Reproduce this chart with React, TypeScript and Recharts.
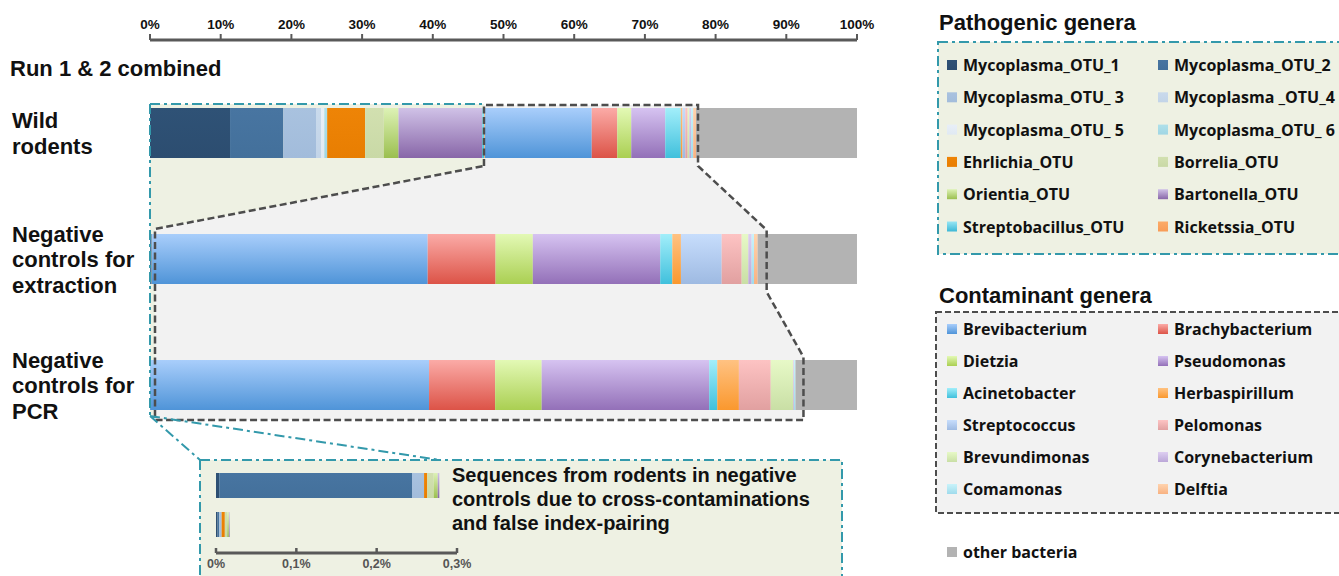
import React from "react";
import { Bar, BarChart, XAxis, YAxis } from "recharts";

// groups (rows of the main chart)
const groupNames = ["Wild rodents", "Negative controls for extraction", "Negative controls for PCR"];
const groupLines = [
  ["Wild", "rodents"],
  ["Negative", "controls for", "extraction"],
  ["Negative", "controls for", "PCR"],
];

const pathogenNames = [
  "Mycoplasma_OTU_1", "Mycoplasma_OTU_2", "Mycoplasma_OTU_ 3", "Mycoplasma _OTU_4",
  "Mycoplasma_OTU_ 5", "Mycoplasma_OTU_ 6", "Ehrlichia_OTU", "Borrelia_OTU",
  "Orientia_OTU", "Bartonella_OTU", "Streptobacillus_OTU", "Ricketssia_OTU",
];
const contaminantNames = [
  "Brevibacterium", "Brachybacterium", "Dietzia", "Pseudomonas", "Acinetobacter", "Herbaspirillum",
  "Streptococcus", "Pelomonas", "Brevundimonas", "Corynebacterium", "Comamonas", "Delftia",
];
const otherName = "other bacteria";

// % of reads, same order as the names above
const wildPathogens = [11.32, 7.54, 4.62, 0.71, 0.47, 0.4, 5.37, 2.64, 2.08, 11.83, 0.3, 0.1];
const extractionPathogens = [0.004, 0.24, 0.015, 0, 0, 0, 0.004, 0.008, 0.005, 0.002, 0, 0];
const pcrPathogens = [0.002, 0.002, 0.003, 0, 0, 0, 0.004, 0.003, 0.002, 0.001, 0, 0];

const wildContaminants = [15.1, 3.62, 1.97, 4.81, 2.2, 0.24, 0.4, 0.33, 0.24, 0.24, 0.3, 0.4];
const extractionContaminants = [39.0, 9.6, 5.27, 18.02, 1.71, 1.22, 5.76, 2.83, 0.94, 0.47, 0.33, 0.52];
const pcrContaminants = [39.45, 9.35, 6.58, 23.7, 1.14, 3.06, 0, 4.5, 3.2, 0.1, 0.2, 0];

const otherBacteria = [22.77, 14.05, 8.7];

const axisTicks = [0, 10, 20, 30, 40, 50, 60, 70, 80, 90, 100];
const insetTicks = [0, 0.1, 0.2, 0.3];
const insetTickLabels = ["0%", "0,1%", "0,2%", "0,3%"];
const insetNames = ["extraction", "PCR"];

// [top, bottom] of the vertical shading
const pathogenColors = [
  ["#2f5276", "#2c4d70"], ["#4875a1", "#43709b"], ["#a9c2df", "#a2bcdb"], ["#c9daec", "#c2d4e8"],
  ["#e8eff7", "#e0e9f3"], ["#aee0ea", "#a0d6e4"], ["#ee8406", "#e87e02"], ["#d2e0b0", "#c9d9a6"],
  ["#ddf2b6", "#9bbf4f"], ["#d0c2e7", "#8866a8"], ["#98e6f4", "#3cb8d6"], ["#fcab68", "#f89c56"],
];
const contaminantColors = [
  ["#a9cefb", "#4f94d8"], ["#fbaba7", "#dc5347"], ["#e3f9b5", "#aacf52"], ["#d6c3f1", "#9370b8"],
  ["#a2eefa", "#40c0dc"], ["#ffc282", "#fa982e"], ["#c7ddfc", "#9ebae2"], ["#fdc3c3", "#e1a0a0"],
  ["#e7f9c7", "#c9dfa5"], ["#ddcef1", "#bba7d8"], ["#c9f3fa", "#9fdbec"], ["#ffd3ae", "#f8b282"],
];
const otherColor = "#b3b3b3";

const FONT_ARIAL = "'Liberation Sans', Arial, sans-serif";
const FONT_LEGEND = "'Open Sans', 'Noto Sans', sans-serif";
const TEAL = "#3399ab";
const DARK = "#4d4d4d";

const sum = (a: number[]) => a.reduce((s, v) => s + v, 0);

const pathogenSets = [wildPathogens, extractionPathogens, pcrPathogens];
const contaminantSets = [wildContaminants, extractionContaminants, pcrContaminants];

const rows = groupNames.map((name, i) => {
  const row: Record<string, any> = { name };
  pathogenSets[i].forEach((v, j) => (row[`p${j}`] = v));
  contaminantSets[i].forEach((v, j) => (row[`c${j}`] = v));
  row.other = otherBacteria[i];
  return row;
});

const insetRows = insetNames.map((name, i) => {
  const row: Record<string, any> = { name };
  pathogenSets[i + 1].forEach((v, j) => (row[`p${j}`] = v));
  return row;
});

// geometry of the main chart (same numbers as the chart margins below)
const PLOT_LEFT = 150;
const PLOT_RIGHT = 857;
const CAT_TOP = 70;
const BAND = 126;
const BAR = 50;
const xPos = (v: number) => PLOT_LEFT + (v / 100) * (PLOT_RIGHT - PLOT_LEFT);
const yCenter = (i: number) => CAT_TOP + BAND * i + BAND / 2;

function GroupTick(props: any) {
  const { y, index } = props;
  const lines = groupLines[index] || [];
  return (
    <text fontFamily={FONT_ARIAL} fontWeight="bold" fontSize={22} fill="#111">
      {lines.map((t, k) => (
        <tspan key={k} x={12} y={y + (k - (lines.length - 1) / 2) * 25.5 + 8}>
          {t}
        </tspan>
      ))}
    </text>
  );
}

function InsetTick(props: any) {
  const { x, y, index } = props;
  return (
    <g>
      <line x1={x} x2={x} y1={y - 5} y2={y} stroke="#595959" strokeWidth={2.5} />
      <text x={x} y={y + 15} textAnchor="middle" fontFamily={FONT_ARIAL} fontWeight="bold" fontSize={12.5} fill="#555">
        {insetTickLabels[index]}
      </text>
    </g>
  );
}

function Gradients() {
  const all = [
    ...pathogenColors.map((c, j) => ({ id: `gp${j}`, c })),
    ...contaminantColors.map((c, j) => ({ id: `gc${j}`, c })),
  ];
  return (
    <defs>
      {all.map(({ id, c }) => (
        <linearGradient key={id} id={id} x1="0" y1="0" x2="0" y2="1">
          <stop offset="0%" stopColor={c[0]} />
          <stop offset="100%" stopColor={c[1]} />
        </linearGradient>
      ))}
    </defs>
  );
}

function LegendItem({ x, y, fill, label }: { x: number; y: number; fill: string; label: string }) {
  return (
    <g>
      <rect x={x} y={y - 5} width={10} height={10} fill={fill} />
      <text x={x + 16} y={y + 6} fontFamily={FONT_LEGEND} fontWeight={700} fontSize={16} fill="#111">
        {label}
      </text>
    </g>
  );
}

export default function App() {
  const wildTop = yCenter(0) - BAR / 2;
  const wildBot = yCenter(0) + BAR / 2;
  const extTop = yCenter(1) - BAR / 2;
  const extBot = yCenter(1) + BAR / 2;
  const pcrTop = yCenter(2) - BAR / 2;
  const pcrBot = yCenter(2) + BAR / 2;

  const xL = xPos(sum(wildPathogens)) - 1;
  const xRw = xPos(sum(wildPathogens) + sum(wildContaminants)) + 2;
  const xRe = xPos(sum(extractionPathogens) + sum(extractionContaminants)) + 9;
  const xRp = xPos(sum(pcrPathogens) + sum(pcrContaminants)) + 8;

  const zoomPath =
    `M${xL},${wildBot + 8} L${xL},${wildTop - 3} L${xRw},${wildTop - 3} L${xRw},${wildBot + 8} ` +
    `L${xRe},${extTop - 4} L${xRe},${extBot + 8} L${xRp},${pcrTop - 3} L${xRp},${pcrBot + 10} ` +
    `L155,${pcrBot + 10} L155,${extTop - 5} Z`;
  const greenPath =
    `M150,${wildTop - 4} L${xL},${wildTop - 4} L${xL},${wildBot + 8} L155,${extTop - 5} ` +
    `L155,${pcrBot + 6} L150,${pcrBot + 6} Z`;

  const insetBox = { x: 200, y: 460, w: 642, h: 140 };

  return (
    <div style={{ position: "absolute", left: 0, top: 0, width: 1339, height: 576, overflow: "hidden", background: "#fff" }}>
      {/* background: shaded zoom areas, inset box, legends */}
      <svg width={1339} height={576} style={{ position: "absolute", left: 0, top: 0 }}>
        <Gradients />
        <path d={zoomPath} fill="#f2f2f2" />
        <path d={greenPath} fill="#eef1e3" />
        <rect x={insetBox.x} y={insetBox.y} width={insetBox.w} height={insetBox.h} fill="#eef1e3"
          stroke={TEAL} strokeWidth={2} strokeDasharray="10 4 3 4" />

        <text x={10} y={76} fontFamily={FONT_ARIAL} fontWeight="bold" fontSize={22} fill="#111">
          Run 1 &amp; 2 combined
        </text>

        <text x={452} y={482} fontFamily={FONT_ARIAL} fontWeight="bold" fontSize={20} fill="#111">
          <tspan x={452} y={482}>Sequences from rodents in negative</tspan>
          <tspan x={452} y={506}>controls due to cross-contaminations</tspan>
          <tspan x={452} y={530}>and false index-pairing</tspan>
        </text>

        {/* pathogenic legend */}
        <text x={939} y={30} fontFamily={FONT_ARIAL} fontWeight="bold" fontSize={22} fill="#111">
          Pathogenic genera
        </text>
        <rect x={938} y={42} width={430} height={212} fill="#eef1e3" stroke={TEAL} strokeWidth={2} strokeDasharray="10 4 3 4" />
        {pathogenNames.map((n, j) => (
          <LegendItem key={n} x={j % 2 === 0 ? 947 : 1158} y={65 + Math.floor(j / 2) * 32.3} fill={`url(#gp${j})`} label={n} />
        ))}

        {/* contaminant legend */}
        <text x={939} y={303} fontFamily={FONT_ARIAL} fontWeight="bold" fontSize={22} fill="#111">
          Contaminant genera
        </text>
        <rect x={936} y={312} width={430} height={201} fill="#f2f2f2" stroke={DARK} strokeWidth={2} strokeDasharray="6 3" />
        {contaminantNames.map((n, j) => (
          <LegendItem key={n} x={j % 2 === 0 ? 947 : 1158} y={329 + Math.floor(j / 2) * 32} fill={`url(#gc${j})`} label={n} />
        ))}
        <LegendItem x={947} y={552} fill={otherColor} label={otherName} />
      </svg>

      {/* main stacked bars */}
      <div style={{ position: "absolute", left: 0, top: 0 }}>
        <BarChart width={900} height={460} data={rows} layout="vertical" margin={{ top: 10, right: 43, bottom: 12, left: 0 }}>
          <XAxis
            type="number"
            orientation="top"
            domain={[0, 100]}
            ticks={axisTicks}
            height={30}
            tickFormatter={(v) => `${v}%`}
            axisLine={{ stroke: "#595959", strokeWidth: 3 }}
            tickLine={{ stroke: "#595959", strokeWidth: 2 }}
            tickSize={6}
            tickMargin={5}
            tick={{ fill: "#111", fontSize: 13.5, fontWeight: 700, fontFamily: "'Liberation Sans Narrow', 'Liberation Sans', sans-serif" }}
          />
          <YAxis
            type="category"
            dataKey="name"
            width={150}
            axisLine={false}
            tickLine={false}
            padding={{ top: 30, bottom: 0 }}
            tick={<GroupTick />}
          />
          {pathogenNames.map((n, j) => (
            <Bar key={n} name={n} dataKey={`p${j}`} stackId="a" barSize={BAR} fill={`url(#gp${j})`} isAnimationActive={false} />
          ))}
          {contaminantNames.map((n, j) => (
            <Bar key={n} name={n} dataKey={`c${j}`} stackId="a" barSize={BAR} fill={`url(#gc${j})`} isAnimationActive={false} />
          ))}
          <Bar name={otherName} dataKey="other" stackId="a" barSize={BAR} fill={otherColor} isAnimationActive={false} />
        </BarChart>
      </div>

      {/* inset: rodent sequences in the negative controls */}
      <div style={{ position: "absolute", left: 200, top: 460 }}>
        <BarChart width={300} height={116} data={insetRows} layout="vertical" margin={{ top: 6, right: 43, bottom: 0, left: 16 }}>
          <XAxis
            type="number"
            domain={[0, 0.3]}
            ticks={insetTicks}
            height={23}
            axisLine={{ stroke: "#595959", strokeWidth: 3 }}
            tickLine={false}
            tickSize={0}
            tickMargin={0}
            tick={<InsetTick />}
          />
          <YAxis type="category" dataKey="name" hide padding={{ top: 0, bottom: 9 }} />
          {pathogenNames.map((n, j) => (
            <Bar key={n} name={n} dataKey={`p${j}`} stackId="a" barSize={25} fill={`url(#gp${j})`} isAnimationActive={false} />
          ))}
        </BarChart>
      </div>

      {/* foreground: dashed zoom outlines */}
      <svg width={1339} height={576} style={{ position: "absolute", left: 0, top: 0, pointerEvents: "none" }}>
        <path d={zoomPath} fill="none" stroke={DARK} strokeWidth={2.5} strokeDasharray="7 3.5" />
        <path
          d={`M150,${wildTop - 4} L${xL},${wildTop - 4} M150,${wildTop - 4} L150,${pcrBot + 6} ` +
            `M150,${pcrBot + 6} L${insetBox.x},${insetBox.y} M150,${pcrBot + 6} L440,${insetBox.y}`}
          fill="none" stroke={TEAL} strokeWidth={2} strokeDasharray="10 4 3 4"
        />
      </svg>
    </div>
  );
}
